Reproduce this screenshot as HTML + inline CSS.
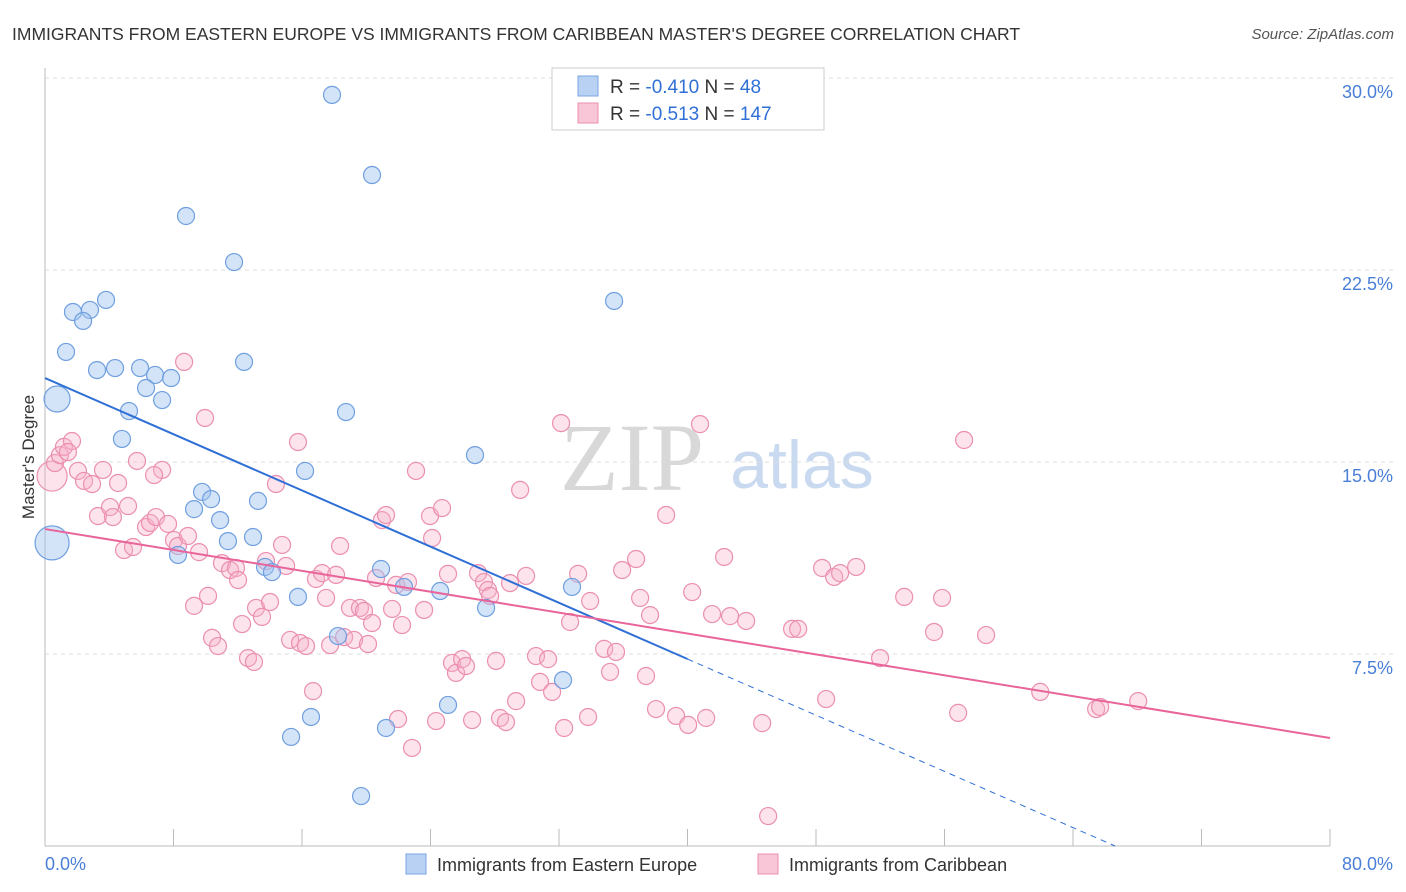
<!DOCTYPE html>
<html><head><meta charset="utf-8"><style>
body{margin:0;background:#fff;font-family:"Liberation Sans",sans-serif;}
svg{display:block}
</style></head><body>
<svg id="chart" width="1406" height="892">
<text x="12" y="40" font-size="17.5" fill="#333">IMMIGRANTS FROM EASTERN EUROPE VS IMMIGRANTS FROM CARIBBEAN MASTER'S DEGREE CORRELATION CHART</text>
<text x="1394" y="39" font-size="15" fill="#555" font-style="italic" text-anchor="end">Source: ZipAtlas.com</text>
<g>
<text x="632" y="490" font-size="96" fill="#d8d8d8" font-family="Liberation Serif,serif" text-anchor="middle">ZIP</text>
<text x="802" y="488" font-size="68" fill="#c9daf0" text-anchor="middle">atlas</text>
</g>
<g id="grid"></g>
<g id="axes"></g>
<g id="marks"></g>
<g>
<rect x="552" y="68" width="272" height="62" fill="#fff" stroke="#ccc"/>
<rect x="578" y="76" width="20" height="20" fill="#b9d2f3" stroke="#7aa6e0"/>
<rect x="578" y="103" width="20" height="20" fill="#f8c6d6" stroke="#eb8fb0"/>
<text x="610" y="93" font-size="19" fill="#333">R = <tspan fill="#2f6fd6">-0.410</tspan>   N =  <tspan fill="#2f6fd6">48</tspan></text>
<text x="610" y="120" font-size="19" fill="#333">R =  <tspan fill="#2f6fd6">-0.513</tspan>   N = <tspan fill="#2f6fd6">147</tspan></text>
</g>
<text transform="translate(34,457) rotate(-90)" font-size="17" fill="#333" text-anchor="middle">Master's Degree</text>
<text x="45" y="870" font-size="18" fill="#4a7fd8">0.0%</text>
<text x="1393" y="870" font-size="18" fill="#4a7fd8" text-anchor="end">80.0%</text>
<g>
<rect x="406" y="854" width="20" height="20" fill="#b9d2f3" stroke="#7aa6e0"/>
<text x="437" y="871" font-size="18" fill="#333">Immigrants from Eastern Europe</text>
<rect x="758" y="854" width="20" height="20" fill="#f8c6d6" stroke="#eb8fb0"/>
<text x="789" y="871" font-size="18" fill="#333">Immigrants from Caribbean</text>
</g>
</svg>
<script>
const yTicks=[7.5,15,22.5,30];
const yTickLabels=["7.5%","15.0%","22.5%","30.0%"];
const xTicks=[0,8,16,24,32,40,48,56,64,72,80];
const blueX=[17.87,20.36,8.78,11.77,3.80,1.74,2.80,2.37,35.43,1.31,12.39,3.24,4.36,5.92,6.85,7.85,6.29,7.29,0.75,5.23,18.74,4.79,16.19,26.77,9.78,10.34,13.26,9.28,10.90,11.39,12.95,8.28,0.44,13.70,14.13,20.92,22.35,24.60,15.75,27.46,32.81,18.24,32.25,25.09,16.56,21.23,15.32,19.68];
const blueY=[29.34,26.21,24.61,22.81,21.33,20.86,20.94,20.51,21.29,19.30,18.91,18.59,18.67,18.67,18.40,18.28,17.89,17.42,17.46,16.99,16.95,15.90,14.65,15.27,13.83,13.55,13.48,13.16,12.73,11.91,12.07,11.37,11.84,10.90,10.70,10.82,10.12,9.96,9.73,9.30,10.12,8.20,6.48,5.51,5.04,4.61,4.26,1.95];
const pinkX=[0.44,0.62,0.93,1.18,1.68,1.43,2.05,2.43,2.93,3.61,3.30,4.05,4.23,4.55,5.17,4.92,5.48,5.73,6.29,6.54,6.91,7.29,6.79,7.66,8.03,8.28,8.66,8.90,9.59,9.96,10.15,9.28,10.40,10.77,11.02,11.52,11.89,12.02,12.27,12.64,13.01,13.14,13.51,13.76,14.01,14.38,14.76,15.01,15.26,15.75,15.88,16.25,16.69,16.87,17.25,17.50,17.75,18.12,18.37,18.62,18.99,19.24,19.61,19.86,20.11,20.36,20.61,20.98,21.23,21.61,21.86,22.23,22.60,22.85,21.98,23.10,23.60,23.97,24.10,24.35,24.72,25.09,25.34,25.59,25.97,26.21,26.59,26.96,27.33,27.58,27.71,28.08,28.33,28.70,28.95,29.33,29.58,29.95,30.57,30.82,31.32,31.57,32.13,32.32,32.69,33.19,33.81,33.94,34.81,35.18,35.55,35.93,36.80,37.05,37.42,37.67,38.04,38.67,39.29,40.04,40.29,40.78,41.16,41.53,42.28,42.65,43.65,44.65,45.02,46.51,46.89,48.38,48.63,49.13,49.50,50.50,51.99,53.49,55.35,55.85,56.85,57.22,58.59,61.96,65.44,65.69,68.06];
const pinkY=[14.45,14.96,15.27,15.59,15.82,15.39,14.65,14.26,14.14,14.69,12.89,13.24,12.85,14.18,13.28,11.56,11.68,15.04,12.46,12.62,12.85,14.69,14.49,12.58,11.95,11.72,18.91,12.11,11.48,16.72,9.77,9.38,8.13,7.81,11.05,10.78,10.86,10.39,8.67,7.34,7.19,9.30,8.95,11.13,9.53,14.14,11.76,10.94,8.05,15.78,7.93,7.81,6.05,10.43,10.66,9.69,7.85,10.59,11.72,8.16,9.30,8.05,9.30,9.18,7.89,8.71,10.47,12.73,12.93,9.26,10.20,8.63,10.31,3.83,4.96,14.65,9.22,12.89,12.03,4.88,13.20,10.63,7.15,6.76,7.30,7.03,4.92,10.66,10.31,10.00,9.77,7.23,5.00,4.84,10.27,5.66,13.91,10.55,7.42,6.41,7.30,6.02,16.52,4.61,8.75,10.63,5.04,9.57,7.70,6.80,7.58,10.78,11.21,9.69,6.64,9.02,5.35,12.93,5.08,4.73,9.92,16.48,5.00,9.06,11.29,8.98,8.79,4.80,1.17,8.48,8.48,10.86,5.74,10.51,10.66,10.90,7.34,9.73,8.36,9.69,5.20,15.86,8.24,6.02,5.35,5.43,5.66];
const blueBig=[18,32];
const pinkBig=[0];
const blueTrend=[18.28,-0.2744];
const pinkTrend=[12.38,-0.102];
const blueSolidEnd=40;

const X=v=>45+v*(1285/80);
const Y=v=>846-v*25.6;
const NS="http://www.w3.org/2000/svg";
function mk(tag,attrs,parent){const e=document.createElementNS(NS,tag);for(const k in attrs)e.setAttribute(k,attrs[k]);parent.appendChild(e);return e;}
const grid=document.getElementById('grid'),axes=document.getElementById('axes'),marks=document.getElementById('marks');
let l=mk('line',{x1:45,x2:1393,y1:78,y2:78,stroke:'#ddd','stroke-dasharray':'4,4'},grid);


yTicks.forEach((t,i)=>{
 const g=mk('line',{x1:45,x2:1393,y1:Y(t),y2:Y(t),stroke:'#ddd','stroke-dasharray':'4,4'},grid);
 
 
 const tx=mk('text',{x:1393,y:Y(t)+20,'font-size':18,fill:'#4a7fd8','text-anchor':'end'},axes);
 tx.textContent=yTickLabels[i];
 
 
});
let ax=mk('line',{x1:45,x2:1330,y1:846,y2:846,stroke:'#bbb'},axes);


let ay=mk('line',{x1:45,x2:45,y1:68,y2:846,stroke:'#bbb'},axes);


xTicks.forEach(t=>{
 const k=mk('line',{x1:X(t),x2:X(t),y1:829,y2:846,stroke:'#bbb'},axes);
 
 
});
pinkX.forEach((x,i)=>{
 const c=mk('circle',{cx:X(x),cy:Y(pinkY[i]),r:pinkBig.includes(i)?15:8.5,fill:'rgba(246,175,200,0.35)',stroke:'#eb8fb0','stroke-width':1.2},marks);
 
 
});
blueX.forEach((x,i)=>{
 const r=i===32?17:(i===18?13:8.5);
 const c=mk('circle',{cx:X(x),cy:Y(blueY[i]),r:r,fill:'rgba(160,196,240,0.45)',stroke:'#6f9fe0','stroke-width':1.2},marks);
 
 
});
const bz=-blueTrend[0]/blueTrend[1];
let b1=mk('line',{x1:X(0),y1:Y(blueTrend[0]),x2:X(blueSolidEnd),y2:Y(blueTrend[0]+blueTrend[1]*blueSolidEnd),stroke:'#2f6fd6','stroke-width':2},marks);


let b2=mk('line',{x1:X(blueSolidEnd),y1:Y(blueTrend[0]+blueTrend[1]*blueSolidEnd),x2:X(bz),y2:Y(0),stroke:'#2f6fd6','stroke-width':1,'stroke-dasharray':'6,5'},marks);


let p1=mk('line',{x1:X(0),y1:Y(pinkTrend[0]),x2:X(80),y2:Y(pinkTrend[0]+pinkTrend[1]*80),stroke:'#e8649a','stroke-width':2},marks);


</script>
</body></html>
